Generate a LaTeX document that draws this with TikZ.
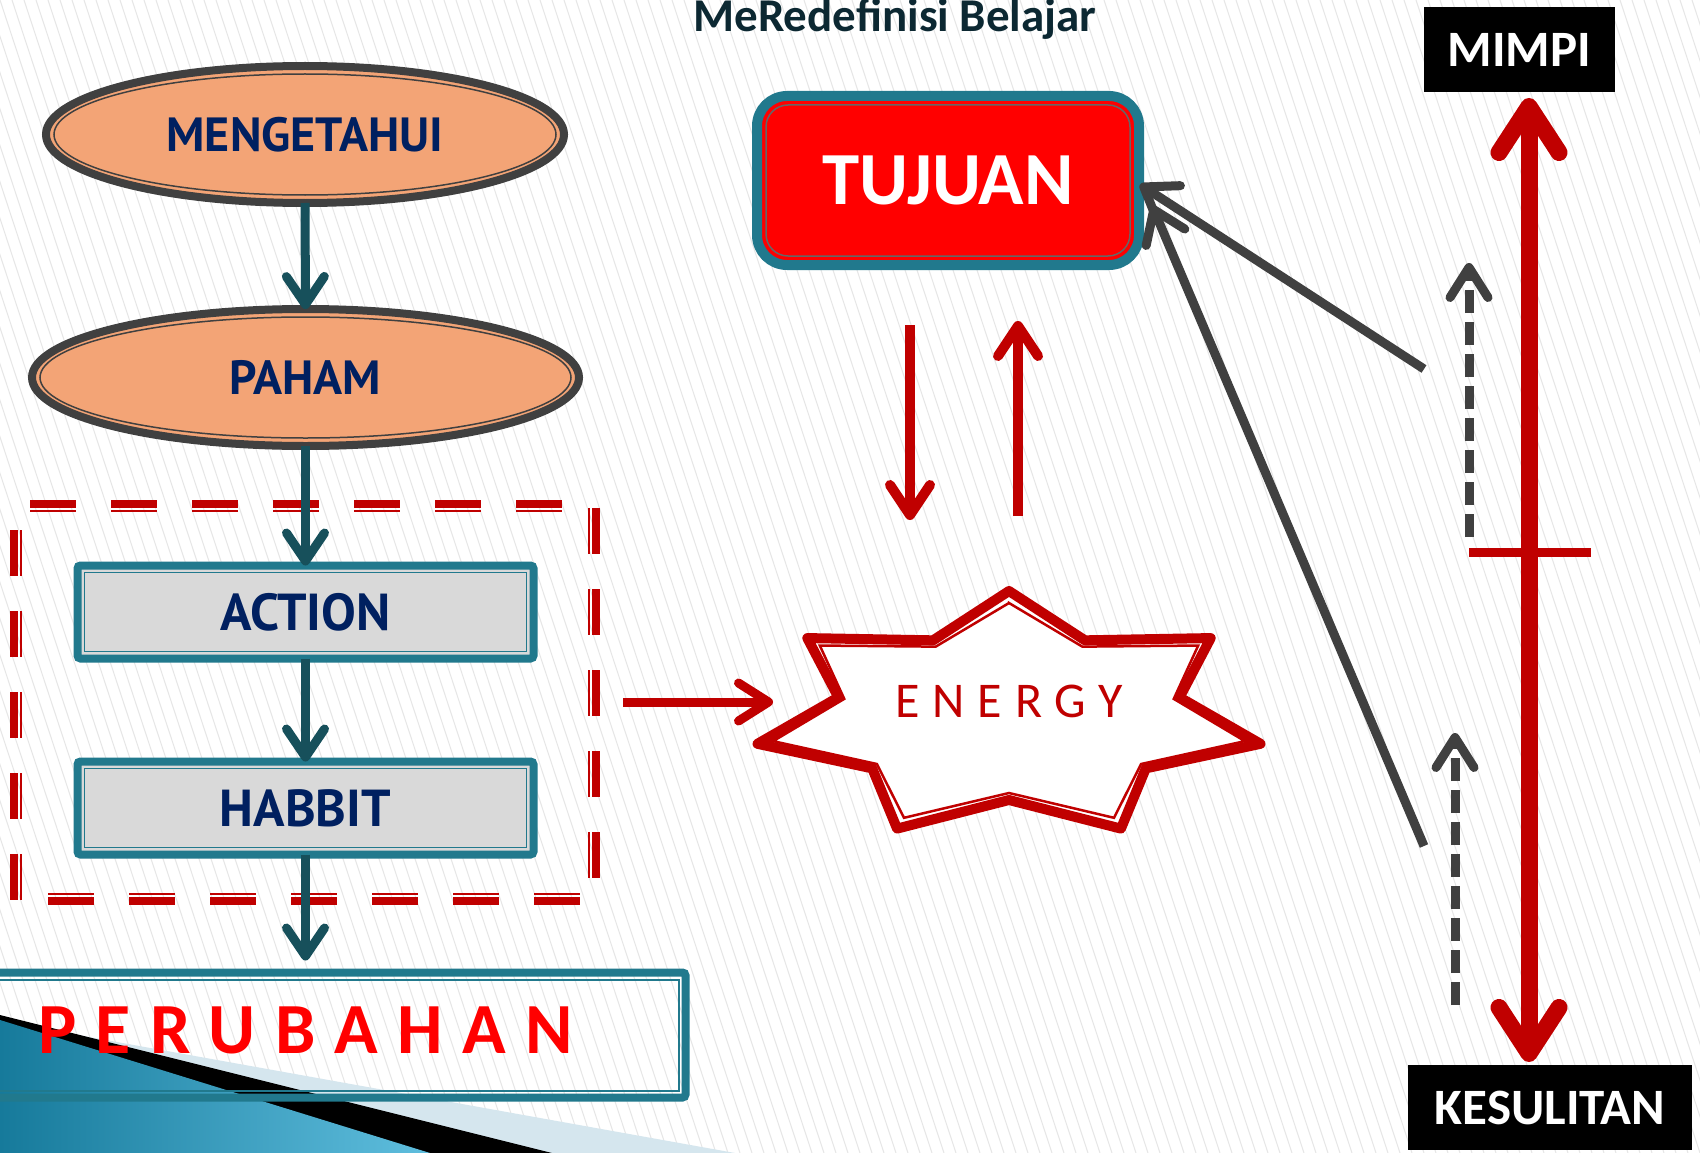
\documentclass[tikz,border=0pt]{standalone}
\usepackage{fontspec}
\setmainfont{Carlito}
\newfontfamily\kotakfont{PT Sans}
\usetikzlibrary{arrows.meta,shapes.geometric}

\definecolor{tealgaris}{RGB}{33,121,141}
\definecolor{tealpanah}{RGB}{23,80,91}
\definecolor{salem}{RGB}{243,164,118}
\definecolor{navy}{RGB}{0,32,96}
\definecolor{merahtua}{RGB}{192,0,0}
\definecolor{abugelap}{RGB}{64,64,64}
\definecolor{abumuda}{RGB}{217,217,217}
\definecolor{warnajudul}{RGB}{12,40,50}
\definecolor{latargaris}{RGB}{230,230,230}
\definecolor{biruterang}{RGB}{213,230,238}
\definecolor{birutua}{RGB}{22,122,155}
\definecolor{birulangit}{RGB}{95,190,222}

\begin{document}
\begin{tikzpicture}[x=1pt,y=-1pt]
  \useasboundingbox (0,0) rectangle (1700,1153);
  \clip (0,0) rectangle (1700,1153);

  % Latar.
  \fill[white] (0,0) rectangle (1700,1153);
  \foreach \i in {-35,...,142}
    \draw[latargaris, line width=1] (\i*12,0) -- ++(380,1153);

  % Hiasan.
  \fill[biruterang] (0,1021) -- (735,1153) -- (0,1153) -- cycle;
  \fill[black] (0,1015) -- (552,1153) -- (0,1153) -- cycle;
  \shade[left color=birutua, right color=birulangit] (0,1020) -- (430,1153) -- (0,1153) -- cycle;

  % Judul.
  \node[font=\bfseries\fontsize{47}{47}\selectfont, text=warnajudul, anchor=base, inner sep=0] (judul) at (895,32) {MeRedefinisi Belajar};

  % Alur kiri.
  \tikzstyle{oval}=[ellipse, draw=abugelap, line width=8, fill=salem, inner sep=0, outer sep=0, text=navy, font=\kotakfont\bfseries\fontsize{48}{48}\selectfont]
  \tikzstyle{kotak}=[draw=tealgaris, line width=8, fill=abumuda, rounded corners=3, minimum width=456, minimum height=93, inner sep=0, outer sep=0, text=navy, font=\kotakfont\bfseries\fontsize{52}{52}\selectfont]
  \tikzstyle{alur}=[tealpanah, line width=9, -{Straight Barb[length=28pt,width=38pt,round]}]
  \tikzstyle{putus}=[merahtua, line width=8, dash pattern=on 46pt off 35pt]
  \tikzstyle{putustipis}=[merahtua, line width=2.5, dash pattern=on 46pt off 35pt]

  \node[oval, minimum width=518, minimum height=137] (mengetahui) at (305,134.5) {MENGETAHUI};
  \draw[abugelap, line width=1.5] (mengetahui.center) ellipse (251 and 60.5);
  \node[oval, minimum width=547, minimum height=137] (paham) at (305.5,377.5) {PAHAM};
  \draw[abugelap, line width=1.5] (paham.center) ellipse (265.5 and 60.5);

  % Kotak putus-putus.
  \draw[putus] (30,504) -- (562,504);
  \draw[putustipis] (30,511) -- (562,511);
  \draw[putus] (14,530) -- (14,900);
  \draw[putustipis] (21,530) -- (21,900);
  \draw[putus] (596,508) -- (596,880);
  \draw[putustipis] (589,508) -- (589,880);
  \draw[putus] (48,901) -- (582,901);
  \draw[putustipis] (48,894) -- (582,894);

  \node[kotak] (action) at (305.5,612) {ACTION};
  \draw[tealgaris, line width=1.5] ([shift={(7,7)}]action.north west) rectangle ([shift={(-7,-7)}]action.south east);
  \node[kotak] (habbit) at (305.5,808) {HABBIT};
  \draw[tealgaris, line width=1.5] ([shift={(7,7)}]habbit.north west) rectangle ([shift={(-7,-7)}]habbit.south east);

  \node[draw=tealgaris, line width=8, rounded corners=3, minimum width=706, minimum height=125, inner sep=0, outer sep=0] (perubahan) at (332.5,1035) {};
  \draw[tealgaris, line width=2] ([shift={(7,7)}]perubahan.north west) rectangle ([shift={(-7,-7)}]perubahan.south east);
  \node[font=\bfseries\fontsize{72}{72}\selectfont\addfontfeature{LetterSpace=27}, text=red, anchor=base west, inner sep=0] (perubahanteks) at (38,1053) {PERUBAHAN};

  \draw[alur] (mengetahui.south) -- (paham.north);
  \draw[alur] (paham.south) -- (action.north);
  \draw[alur] (action.south) -- (habbit.north);
  \draw[alur, shorten >=12] (habbit.south) -- (habbit.south |- perubahan.north);

  % Energy.
  \tikzstyle{panahmerah}=[merahtua, line width=9, -{Straight Barb[length=30pt,width=38pt,round]}]
  \begin{scope}[shift={(1009,716)}]
    \draw[merahtua, line width=10, line join=round, fill=white] (-90:258 and 125)
      \foreach \k in {1,...,7} { -- ({51.4286*\k-115.7143}:175 and 84) -- ({51.4286*\k-90}:258 and 125) } -- cycle;
    \draw[merahtua, line width=2.5] (-90:242 and 113)
      \foreach \k in {1,...,7} { -- ({51.4286*\k-115.7143}:169 and 77) -- ({51.4286*\k-90}:242 and 113) } -- cycle;
  \end{scope}
  \node[font=\fontsize{50}{50}\selectfont\addfontfeature{LetterSpace=26}, text=merahtua, anchor=base west, inner sep=0] (energy) at (895,717) {ENERGY};

  \coordinate (kotakkanan) at (623,702);
  \coordinate (bintangkiri) at (773,702);
  \draw[panahmerah] (kotakkanan) -- (bintangkiri);

  % Tujuan.
  \node[draw=tealgaris, line width=10, fill=red, rounded corners=30, minimum width=382, minimum height=169, inner sep=0, outer sep=0, text=white, font=\fontsize{75}{75}\selectfont] (tujuan) at (948,180.5) {\textbf{TUJUAN}};
  \draw[abugelap!80, line width=1.5, rounded corners=22] ([shift={(9,9)}]tujuan.north west) rectangle ([shift={(-9,-9)}]tujuan.south east);

  \tikzstyle{panahtebal}=[merahtua, line width=10, -{Straight Barb[length=30pt,width=40pt,round]}]
  \draw[panahtebal] ([shift={(-38,60)}]tujuan.south) -- ([shift={(-38,255)}]tujuan.south);
  \draw[panahtebal] ([shift={(70,251)}]tujuan.south) -- ([shift={(70,56)}]tujuan.south);

  % Mimpi dan kesulitan.
  \tikzstyle{kotakhitam}=[fill=black, text=white, inner sep=0, outer sep=0, font=\bfseries\fontsize{51}{51}\selectfont]
  \tikzstyle{panahabu}=[abugelap, line width=9, -{Straight Barb[length=30pt,width=42pt,round]}]
  \tikzstyle{panahputus}=[abugelap, line width=9, dash pattern=on 23pt off 9pt, -{Straight Barb[length=30pt,width=38pt,round]}]

  \node[kotakhitam, minimum width=191, minimum height=85] (mimpi) at (1519.5,49.5) {MIMPI};
  \node[kotakhitam, minimum width=284, minimum height=85] (kesulitan) at (1550,1107.5) {KESULITAN};

  \coordinate (sumbu) at (1529,0);
  \draw[merahtua, line width=17, {Straight Barb[length=46pt,width=60pt,round]}-{Straight Barb[length=46pt,width=60pt,round]}, shorten <=6, shorten >=3] (sumbu |- mimpi.south) -- (sumbu |- kesulitan.north);
  \draw[merahtua, line width=9] (1469,552) -- (1591,552);

  \coordinate (abu1) at (1424,369);
  \coordinate (abu2) at (1424,846);
  \draw[panahabu] (abu1) -- ([shift={(1,4)}]tujuan.east);
  \draw[panahabu] (abu2) -- ([shift={(13,25)}]tujuan.east);

  \coordinate (putus1) at (1469,537);
  \coordinate (putus2) at (1455,1005);
  \draw[panahputus] (putus1) -- ++(0,-274);
  \draw[panahputus] (putus2) -- ++(0,-272);
\end{tikzpicture}
\end{document}
